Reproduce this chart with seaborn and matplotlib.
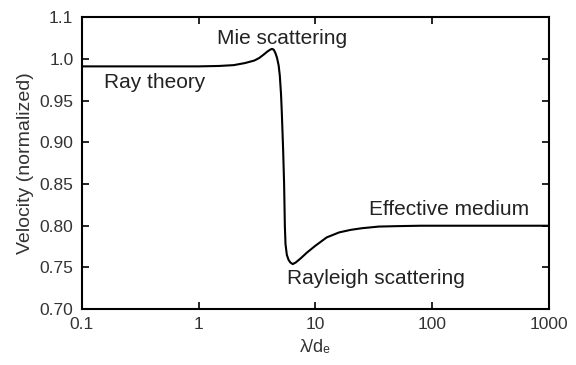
import matplotlib
matplotlib.use("Agg")
import matplotlib.pyplot as plt
import seaborn as sns
import pandas as pd

# Data
wavelength_ratio = [0.1, 1.0, 1.5, 2.0, 2.5, 3.0, 3.3, 3.6, 3.9, 4.1, 4.25, 4.4, 4.55,
                    4.7, 4.85, 4.96, 5.08, 5.16, 5.3, 5.4, 5.48, 5.55, 5.7, 5.9, 6.1,
                    6.4, 6.8, 7.5, 8.5, 10.0, 12.5, 16.0, 20.0, 25.0, 35.0, 50.0, 80.0,
                    1000.0]
velocity = [0.991, 0.991, 0.9915, 0.9925, 0.995, 0.998, 1.001, 1.005, 1.009, 1.011,
            1.012, 1.011, 1.007, 1.001, 0.992, 0.980, 0.958, 0.936, 0.890, 0.850,
            0.800, 0.778, 0.765, 0.759, 0.756, 0.754, 0.756, 0.761, 0.768, 0.776,
            0.786, 0.792, 0.795, 0.797, 0.799, 0.7995, 0.800, 0.800]

y_ticks = [0.70, 0.75, 0.80, 0.85, 0.90, 0.95, 1.00, 1.05]
y_tick_labels = ["0.70", "0.75", "0.80", "0.85", "0.90", "0.95", "1.0", "1.1"]
x_ticks = [0.1, 1, 10, 100, 1000]
x_tick_labels = ["0.1", "1", "10", "100", "1000"]

annotations = [
    ("Mie scattering", 5.17, 1.025),
    ("Ray theory", 0.42, 0.972),
    ("Effective medium", 139, 0.82),
    ("Rayleigh scattering", 33, 0.737),
]

sns.set_theme(style="ticks")
plt.rcParams["font.family"] = ["Liberation Sans", "DejaVu Sans"]

df = pd.DataFrame({"x": wavelength_ratio, "y": velocity})

fig = plt.figure(figsize=(5.76, 3.65), dpi=100)
ax = fig.add_axes([0.142, 0.153, 0.811, 0.800])
sns.lineplot(data=df, x="x", y="y", ax=ax, color="black", linewidth=1.5)

ax.set_xscale("log")
ax.set_xlim(0.1, 1000)
ax.set_ylim(0.70, 1.05)
ax.set_xticks(x_ticks)
ax.set_xticklabels(x_tick_labels)
ax.minorticks_off()
ax.set_yticks(y_ticks)
ax.set_yticklabels(y_tick_labels)

ax.tick_params(direction="in", length=5, width=1.2, top=True, right=True,
               labelsize=12.5, colors="black", labelcolor="#333333", pad=6)
for s in ax.spines.values():
    s.set_linewidth(1.5)
    s.set_color("black")

ax.set_xlabel("λ/dₑ", fontsize=13, color="#333333", labelpad=5)
ax.set_ylabel("Velocity (normalized)", fontsize=14, color="#333333", labelpad=4)

for txt, x, y in annotations:
    ax.text(x, y, txt, ha="center", va="center", fontsize=15, color="#222222")

fig.savefig("out.png", dpi=100)
